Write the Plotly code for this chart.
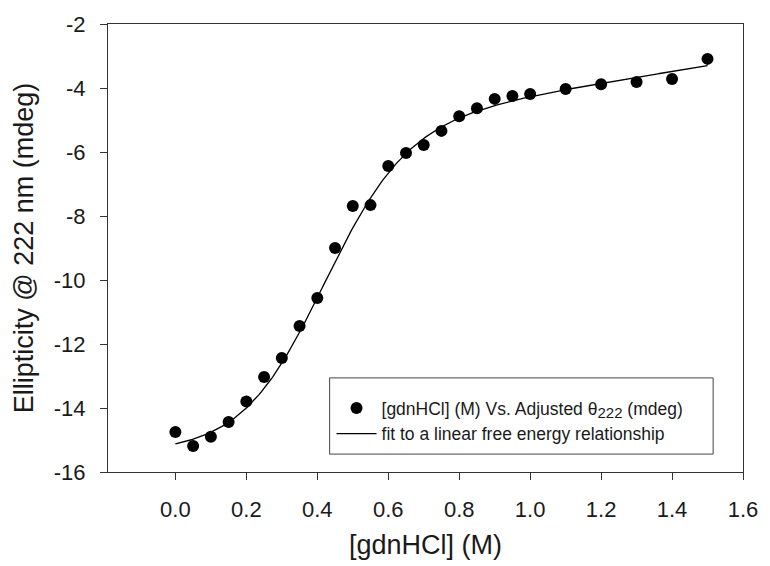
import numpy as np
import plotly.graph_objects as go

# Denaturation data: [gdnHCl] (M) vs adjusted ellipticity at 222 nm (mdeg)
gdn_conc = [0.0, 0.05, 0.1, 0.15, 0.2, 0.25, 0.3, 0.35, 0.4, 0.45, 0.5, 0.55,
            0.6, 0.65, 0.7, 0.75, 0.8, 0.85, 0.9, 0.95, 1.0, 1.1, 1.2, 1.3,
            1.4, 1.5]
theta_222 = [-14.75, -15.19, -14.9, -14.44, -13.8, -13.03, -12.44, -11.44,
             -10.56, -9.0, -7.69, -7.66, -6.44, -6.03, -5.78, -5.34, -4.88,
             -4.63, -4.34, -4.25, -4.19, -4.03, -3.88, -3.81, -3.72, -3.09]

# Two-state linear free energy fit parameters
native_intercept = -15.4
unfolded_intercept = -6.0
unfolded_slope = 1.8
midpoint = 0.41
m_over_rt = 8.5

x_ticks = [0.0, 0.2, 0.4, 0.6, 0.8, 1.0, 1.2, 1.4, 1.6]
y_ticks = [-16, -14, -12, -10, -8, -6, -4, -2]

fit_x = np.linspace(0.0, 1.5, 301)
frac_unfolded = 1.0 / (1.0 + np.exp(m_over_rt * (midpoint - fit_x)))
fit_y = native_intercept + frac_unfolded * (
    unfolded_intercept + unfolded_slope * fit_x - native_intercept)

fig = go.Figure()
fig.add_trace(go.Scatter(
    x=gdn_conc, y=theta_222, mode="markers",
    marker=dict(color="black", size=12),
    name="[gdnHCl] (M) Vs. Adjusted θ<sub><span style='font-size:15px'>222</span></sub> (mdeg)",
))
fig.add_trace(go.Scatter(
    x=fit_x, y=fit_y, mode="lines",
    line=dict(color="black", width=1.3),
    name="fit to a linear free energy relationship",
))

FONT = "Liberation Sans, Arial, sans-serif"
tick_font = dict(family=FONT, size=22, color="#1a1a1a")
title_font = dict(family=FONT, size=27, color="#1a1a1a")

fig.update_layout(
    width=770, height=566,
    margin=dict(l=108, r=20, t=24, b=94),
    paper_bgcolor="white", plot_bgcolor="white",
    font=dict(family=FONT, color="#1a1a1a"),
    showlegend=True,
    legend=dict(
        x=0.352, y=0.183, xanchor="left", yanchor="top",
        borderwidth=0, bgcolor="rgba(0,0,0,0)",
        font=dict(size=17.5, color="#1a1a1a"),
        itemwidth=40, tracegroupgap=0,
    ),
    # frame around the legend, with roomier padding than the default box
    shapes=[dict(
        type="rect", xref="paper", yref="paper",
        x0=0.349, x1=0.953, y0=0.040, y1=0.210,
        line=dict(color="#444", width=1), fillcolor="white", layer="below",
    )],
)
fig.update_xaxes(
    range=[-0.19, 1.6], tickvals=x_ticks, ticktext=[f"{v:.1f}" for v in x_ticks],
    ticks="outside", ticklen=7, tickcolor="#333", tickfont=tick_font,
    ticklabelstandoff=10,
    showline=True, linecolor="#333", linewidth=1.3, mirror=True,
    showgrid=False, zeroline=False,
    title=dict(text="[gdnHCl] (M)", font=title_font, standoff=14),
)
fig.update_yaxes(
    range=[-16, -2], tickvals=y_ticks, ticktext=[str(v) for v in y_ticks],
    ticks="outside", ticklen=7, tickcolor="#333", tickfont=tick_font,
    ticklabelstandoff=10,
    showline=True, linecolor="#333", linewidth=1.3, mirror=True,
    showgrid=False, zeroline=False,
    title=dict(text="Ellipticity @ 222 nm (mdeg)", font=title_font, standoff=12),
)

fig.write_html("out.html")
